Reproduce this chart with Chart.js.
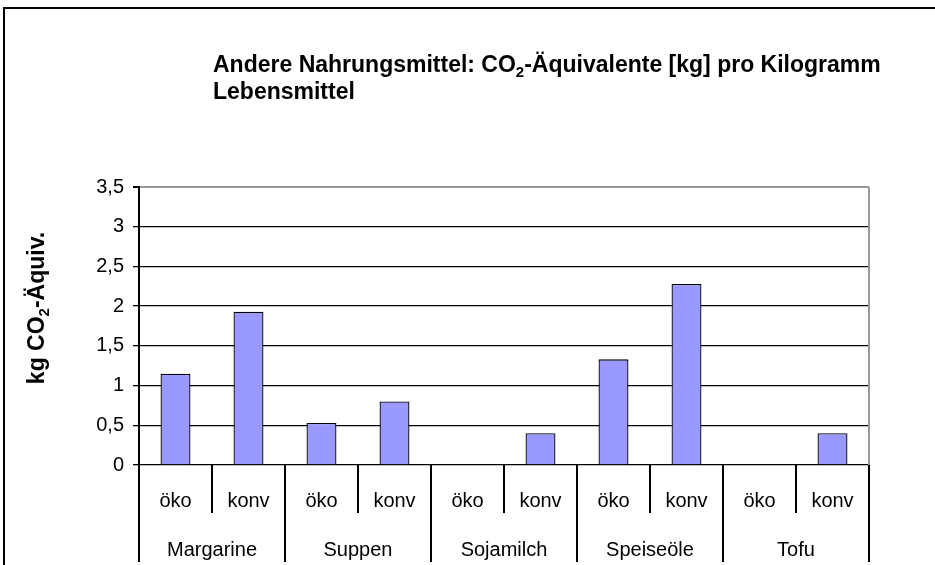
<!DOCTYPE html>
<html>
<head>
<meta charset="utf-8">
<script src="https://cdn.jsdelivr.net/npm/chart.js@4/dist/chart.umd.min.js"></script>
<style>
  html, body { margin: 0; padding: 0; background: #fff; }
  #wrap { position: relative; width: 935px; height: 565px; }
</style>
</head>
<body>
<div id="wrap"><canvas id="c" width="935" height="565"></canvas></div>
<script>
// ---- data ----
const groups = ["Margarine", "Suppen", "Sojamilch", "Speiseöle", "Tofu"];
const kinds = ["öko", "konv"];
const values = [1.15, 1.93, 0.53, 0.80, 0, 0.40, 1.33, 2.28, 0, 0.40];
const yTicks = [0, 0.5, 1, 1.5, 2, 2.5, 3, 3.5];
const titleParts = ["Andere Nahrungsmittel: CO", "2", "-Äquivalente [kg] pro Kilogramm"];
const titleLine2 = "Lebensmittel";
const yTitleParts = ["kg CO", "2", "-Äquiv."];

const categories = [];
groups.forEach(g => kinds.forEach(k => categories.push(k)));

const FONT = "'Liberation Sans', Arial, sans-serif";

function drawParts(ctx, parts, x, y, size) {
  let cx = x;
  parts.forEach((p, i) => {
    if (i === 1) {
      ctx.font = "bold " + Math.round(size * 0.65) + "px " + FONT;
      ctx.fillText(p, cx, y + size * 0.22);
    } else {
      ctx.font = "bold " + size + "px " + FONT;
      ctx.fillText(p, cx, y);
    }
    cx += ctx.measureText(p).width;
  });
  return cx - x;
}
function partsWidth(ctx, parts, size) {
  let w = 0;
  parts.forEach((p, i) => {
    ctx.font = "bold " + (i === 1 ? Math.round(size * 0.65) : size) + "px " + FONT;
    w += ctx.measureText(p).width;
  });
  return w;
}

const decor = {
  id: "decor",
  afterDraw(chart) {
    const ctx = chart.ctx;
    const a = chart.chartArea;
    const xs = chart.scales.x;
    ctx.save();
    // outer frame
    ctx.strokeStyle = "#000";
    ctx.lineWidth = 2;
    ctx.strokeRect(4, 8, 1000, 1000);
    // plot area right border (gray)
    ctx.strokeStyle = "#999";
    ctx.lineWidth = 2;
    ctx.beginPath();
    ctx.moveTo(a.right, a.top);
    ctx.lineTo(a.right, a.bottom);
    ctx.stroke();
    // x-axis separators
    ctx.strokeStyle = "#000";
    ctx.lineWidth = 2;
    const n = categories.length;
    const step = (a.right - a.left) / n;
    for (let i = 0; i <= n; i++) {
      const x = a.left + step * i;
      const bottom = (i % 2 === 0) ? 562 : 513;
      ctx.beginPath();
      ctx.moveTo(x, a.bottom);
      ctx.lineTo(x, bottom);
      ctx.stroke();
    }
    // x labels
    ctx.fillStyle = "#000";
    ctx.textAlign = "center";
    ctx.textBaseline = "alphabetic";
    ctx.font = "20px " + FONT;
    categories.forEach((c, i) => {
      ctx.fillText(c, xs.getPixelForValue(i), 507);
    });
    groups.forEach((g, gi) => {
      const x = (xs.getPixelForValue(gi * 2) + xs.getPixelForValue(gi * 2 + 1)) / 2;
      ctx.fillText(g, x, 556);
    });
    // title
    ctx.textAlign = "left";
    drawParts(ctx, titleParts, 213, 72, 23);
    ctx.font = "bold 23px " + FONT;
    ctx.fillText(titleLine2, 213, 99);
    // y title
    ctx.save();
    ctx.translate(44, 308);
    ctx.rotate(-Math.PI / 2);
    const w = partsWidth(ctx, yTitleParts, 23);
    drawParts(ctx, yTitleParts, -w / 2, 0, 23);
    ctx.restore();
    ctx.restore();
  }
};

new Chart(document.getElementById("c"), {
  type: "bar",
  data: {
    labels: categories,
    datasets: [{
      data: values,
      backgroundColor: "#9999FF",
      borderColor: "#000",
      borderWidth: 1.3,
      barPercentage: 0.41,
      categoryPercentage: 1.0
    }]
  },
  options: {
    responsive: false,
    animation: false,
    devicePixelRatio: 1,
    layout: { padding: { top: 187, right: 66, bottom: 0, left: 0 } },
    plugins: { legend: { display: false }, title: { display: false }, tooltip: { enabled: false } },
    scales: {
      x: {
        grid: { display: false },
        border: { display: false },
        ticks: { display: false },
        afterFit(s) { s.height = 100; }
      },
      y: {
        min: 0, max: 3.5,
        afterBuildTicks(s) { s.ticks = yTicks.map(v => ({ value: v })); },
        afterFit(s) { s.width = 139; },
        grid: {
          color: ctx => (ctx.tick && ctx.tick.value === 3.5) ? "#999" : "#000",
          lineWidth: ctx => (ctx.tick && ctx.tick.value === 3.5) ? 2 : 1.3,
          tickLength: 6,
          tickColor: "#000",
          drawTicks: true
        },
        border: { display: true, color: "#000", width: 2 },
        ticks: {
          color: "#000",
          font: { family: FONT, size: 20 },
          padding: 9,
          callback: v => String(v).replace(".", ",")
        }
      }
    }
  },
  plugins: [decor]
});
</script>
</body>
</html>
